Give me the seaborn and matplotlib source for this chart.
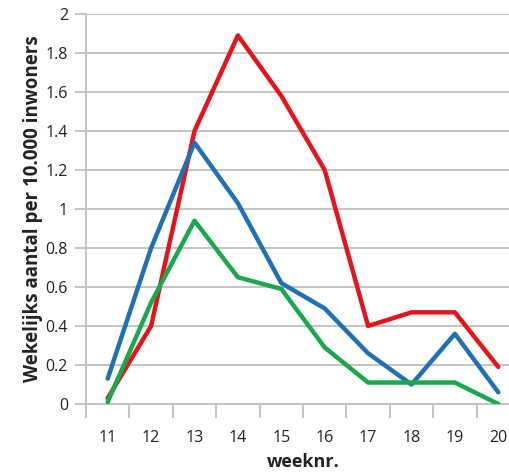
import matplotlib
matplotlib.use("Agg")
import matplotlib.pyplot as plt
import seaborn as sns
import pandas as pd

weeks = [11, 12, 13, 14, 15, 16, 17, 18, 19, 20]
red_values = [0.03, 0.40, 1.40, 1.89, 1.58, 1.20, 0.40, 0.47, 0.47, 0.19]
blue_values = [0.13, 0.80, 1.34, 1.03, 0.62, 0.49, 0.26, 0.10, 0.36, 0.06]
green_values = [0.01, 0.52, 0.94, 0.65, 0.59, 0.29, 0.11, 0.11, 0.11, 0.00]
y_ticks = [0, 0.2, 0.4, 0.6, 0.8, 1.0, 1.2, 1.4, 1.6, 1.8, 2.0]
y_tick_labels = ["0", "0.2", "0.4", "0.6", "0.8", "1", "1.2", "1.4", "1.6", "1.8", "2"]
x_label = "weeknr."
y_label = "Wekelijks aantal per 10.000 inwoners"

series_names = ["rood", "blauw", "groen"]
colors = {"rood": "#e5141b", "blauw": "#1f70b4", "groen": "#19a84b"}

df = pd.concat([
    pd.DataFrame({"week": weeks, "waarde": v, "reeks": n})
    for n, v in zip(series_names, [red_values, blue_values, green_values])
])

sns.set_style("white")
plt.rcParams['font.family'] = ['Open Sans', 'DejaVu Sans']

W, H = 510, 473
fig = plt.figure(figsize=(W / 100, H / 100), dpi=100)
left, right_px, top, bottom = 86, 520, 14, 404
ax = fig.add_axes([left / W, 1 - bottom / H, (right_px - left) / W, (bottom - top) / H])

sns.lineplot(data=df, x="week", y="waarde", hue="reeks", palette=colors,
             hue_order=series_names, linewidth=3.2, legend=False, ax=ax,
             zorder=3)

ax.set_xlim(10.5, 20.5)
ax.set_ylim(0, 2)
ax.set_yticks(y_ticks)
ax.set_yticklabels(y_tick_labels)
ax.set_xticks(weeks)
ax.set_xticklabels([str(w) for w in weeks])
ax.set_xticks([w - 0.5 for w in weeks] + [20.5], minor=True)

grid_c = "#c4c4c4"
ax.yaxis.grid(True, color=grid_c, linewidth=1.4)
ax.xaxis.grid(False)
ax.set_axisbelow(True)
for s in ["top", "right"]:
    ax.spines[s].set_visible(False)
for s in ["left", "bottom"]:
    ax.spines[s].set_color(grid_c)
    ax.spines[s].set_linewidth(1.4)

ax.tick_params(axis="y", which="major", length=8, width=1.4, color=grid_c,
               pad=5, labelsize=11.5, labelcolor="#222222", left=True)
ax.tick_params(axis="x", which="major", length=0, pad=19,
               labelsize=11.5, labelcolor="#222222")
ax.tick_params(axis="x", which="minor", length=10, width=1.4, color=grid_c,
               bottom=True)

ax.set_xlabel(x_label, fontsize=13, fontweight="bold", color="#222222", labelpad=5)
ax.set_ylabel(y_label, fontsize=13.5, fontweight="bold", color="#222222", labelpad=2)

fig.savefig("out.png", dpi=100)
